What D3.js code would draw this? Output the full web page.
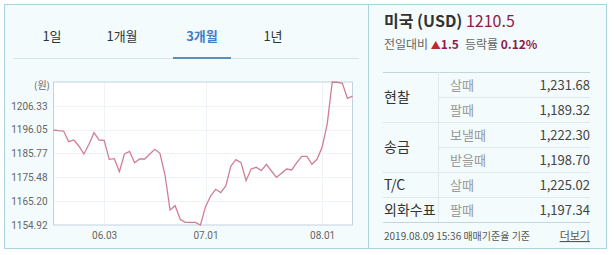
<!DOCTYPE html>
<html>
<head>
<meta charset="utf-8">
<script src="https://cdn.jsdelivr.net/npm/d3@7"></script>
<style>
  body { margin: 0; background: #fff; }
  svg { display: block; font-family: "Noto Sans CJK KR", "Noto Sans", sans-serif; }
</style>
</head>
<body>
<svg id="chart" width="614" height="255"></svg>
<script>
// dates (trading days, MM.DD)
var dates = ["05.20","05.21","05.22","05.23","05.24","05.27","05.28","05.29","05.30","05.31",
  "06.03","06.04","06.05","06.06","06.07","06.10","06.11","06.12","06.13","06.14",
  "06.17","06.18","06.19","06.20","06.21","06.24","06.25","06.26","06.27","06.28",
  "07.01","07.02","07.03","07.04","07.05","07.08","07.09","07.10","07.11","07.12",
  "07.15","07.16","07.17","07.18","07.19","07.22","07.23","07.24","07.25","07.26",
  "07.29","07.30","07.31","08.01","08.02","08.05","08.06","08.07","08.08","08.09"];

// USD/KRW closing rate
var rates = [1195.90,1195.62,1195.47,1190.87,1191.59,1189.00,1185.55,1189.72,1194.75,1191.59,
  1191.45,1183.25,1183.54,1177.93,1185.55,1186.70,1181.81,1183.39,1183.39,1185.55,
  1187.56,1185.84,1176.49,1161.39,1163.26,1157.36,1156.07,1156.07,1156.07,1154.92,
  1162.83,1167.43,1170.31,1168.87,1171.74,1180.37,1183.10,1181.81,1174.05,1179.08,
  1179.80,1178.36,1181.09,1178.22,1175.48,1177.21,1179.08,1178.65,1181.81,1184.54,
  1184.54,1181.09,1183.25,1188.43,1198.35,1216.61,1216.50,1216.04,1209.56,1210.50];

var yTicks = [1154.92, 1165.20, 1175.48, 1185.77, 1196.05, 1206.33];
var xTicks = ["06.03", "07.01", "08.01"];
var tabs = ["1일", "1개월", "3개월", "1년"];
var activeTab = "3개월";

// right side table
var groups = ["현찰", "현찰", "송금", "송금", "T/C", "외화수표"];
var kinds = ["살때", "팔때", "보낼때", "받을때", "살때", "팔때"];
var prices = ["1,231.68", "1,189.32", "1,222.30", "1,198.70", "1,225.02", "1,197.34"];

var svg = d3.select("#chart");

// panels
svg.append("rect").attr("x", 4.5).attr("y", 4.5).attr("width", 602).attr("height", 244)
  .attr("fill", "#f3fbfc").attr("stroke", "#a9d4dc");
svg.append("line").attr("x1", 368.5).attr("x2", 368.5).attr("y1", 4.5).attr("y2", 248.5)
  .attr("stroke", "#a9d4dc");

// tabs
var tabX = d3.scaleOrdinal().domain(tabs).range([52, 122, 202, 273]);
svg.append("line").attr("x1", 13).attr("x2", 359).attr("y1", 58.5).attr("y2", 58.5)
  .attr("stroke", "#d5e6ea");
svg.selectAll(".tab").data(tabs).enter().append("text")
  .attr("x", d => tabX(d)).attr("y", 41)
  .attr("text-anchor", "middle")
  .attr("font-size", 13)
  .attr("font-weight", d => d == activeTab ? "bold" : "normal")
  .attr("fill", d => d == activeTab ? "#3d7fc6" : "#333")
  .text(d => d);
svg.append("line").attr("x1", tabX(activeTab) - 29).attr("x2", tabX(activeTab) + 29)
  .attr("y1", 58).attr("y2", 58).attr("stroke", "#5a8fb8").attr("stroke-width", 2);

// chart
var pLeft = 53.5, pRight = 352.5, pTop = 82, pBottom = 225;
var x = d3.scalePoint().domain(dates).range([pLeft, pRight]);
var y = d3.scaleLinear().domain([1154.92, 1216.61]).range([pBottom, pTop]);

svg.append("rect").attr("x", pLeft).attr("y", pTop).attr("width", pRight - pLeft).attr("height", pBottom - pTop)
  .attr("fill", "#fff");

svg.selectAll(".hgrid").data(yTicks.slice(1)).enter().append("line")
  .attr("x1", pLeft).attr("x2", pRight)
  .attr("y1", d => Math.round(y(d)) + 0.5).attr("y2", d => Math.round(y(d)) + 0.5)
  .attr("stroke", "#eef3f7");
svg.selectAll(".vgrid").data(xTicks).enter().append("line")
  .attr("x1", d => Math.round(x(d)) + 0.5).attr("x2", d => Math.round(x(d)) + 0.5)
  .attr("y1", pTop).attr("y2", pBottom)
  .attr("stroke", "#eef3f7");

svg.append("rect").attr("x", pLeft).attr("y", pTop).attr("width", pRight - pLeft).attr("height", pBottom - pTop)
  .attr("fill", "none").attr("stroke", "#c3d2e0");

var yAxis = svg.append("g").attr("transform", "translate(" + (pLeft - 3) + ",0)")
  .call(d3.axisLeft(y).tickValues(yTicks).tickSize(0).tickFormat(d3.format(".2f")));
yAxis.select(".domain").remove();
yAxis.selectAll("text").attr("font-size", 10).attr("fill", "#666")
  .attr("font-family", "Roboto, sans-serif");

var xAxis = svg.append("g").attr("transform", "translate(0," + (pBottom + 4) + ")")
  .call(d3.axisBottom(x).tickValues(xTicks).tickSize(0));
xAxis.select(".domain").remove();
xAxis.selectAll("text").attr("font-size", 10).attr("fill", "#666")
  .attr("font-family", "Roboto, sans-serif");

svg.append("text").attr("x", 42).attr("y", 89).attr("text-anchor", "middle")
  .attr("font-size", 10).attr("fill", "#666").text("(원)");

var line = d3.line().x((d, i) => x(dates[i])).y(d => y(d));
svg.append("path").datum(rates)
  .attr("d", line)
  .attr("fill", "none")
  .attr("stroke", "#cf7f93")
  .attr("stroke-width", 1.3);

// header
var head = svg.append("text").attr("x", 384).attr("y", 27).attr("font-size", 16);
head.append("tspan").attr("font-weight", "bold").attr("fill", "#333").text("미국 (USD) ");
head.append("tspan").attr("fill", "#8c1c4c").text("1210.5");

var sub = svg.append("text").attr("x", 384).attr("y", 49).attr("font-size", 12);
sub.append("tspan").attr("fill", "#666").text("전일대비 ");
sub.append("tspan").attr("fill", "#c0282e").attr("font-size", 10).text("▲");
sub.append("tspan").attr("fill", "#8c1c4c").attr("font-weight", "bold").text("1.5");
sub.append("tspan").attr("fill", "#666").attr("dx", 6).text("등락률 ");
sub.append("tspan").attr("fill", "#8c1c4c").attr("font-weight", "bold").text("0.12%");

// table
var rowY = d3.scaleBand().domain(d3.range(prices.length)).range([72, 222]);
var tl = 383, tm = 438, tr = 590;

svg.selectAll(".rowline").data(d3.range(prices.length + 1)).enter().append("line")
  .attr("x1", i => (i > 0 && i < prices.length && groups[i] == groups[i - 1]) ? tm : tl)
  .attr("x2", tr)
  .attr("y1", i => (i < prices.length ? rowY(i) : 222) + 0.5)
  .attr("y2", i => (i < prices.length ? rowY(i) : 222) + 0.5)
  .attr("stroke", i => (i == 0 || i == prices.length) ? "#c3d6dc" : "#dfeaee");
svg.append("line").attr("x1", tm + 0.5).attr("x2", tm + 0.5).attr("y1", 72).attr("y2", 222)
  .attr("stroke", "#dfeaee");

var groupNames = Array.from(new Set(groups));
svg.selectAll(".grp").data(groupNames).enter().append("text")
  .attr("x", 384)
  .attr("y", g => {
    var idx = d3.range(groups.length).filter(i => groups[i] == g);
    return (rowY(idx[0]) + rowY(idx[idx.length - 1]) + rowY.bandwidth()) / 2 + 5;
  })
  .attr("font-size", 14).attr("fill", "#333").text(g => g);

svg.selectAll(".kind").data(kinds).enter().append("text")
  .attr("x", 450).attr("y", (d, i) => rowY(i) + rowY.bandwidth() / 2 + 5)
  .attr("font-size", 13).attr("fill", "#999").text(d => d);

svg.selectAll(".price").data(prices).enter().append("text")
  .attr("x", tr).attr("y", (d, i) => rowY(i) + rowY.bandwidth() / 2 + 5)
  .attr("text-anchor", "end")
  .attr("font-size", 13).attr("fill", "#444").text(d => d);

// footer
svg.append("text").attr("x", 384).attr("y", 240).attr("font-size", 10).attr("fill", "#555")
  .text("2019.08.09 15:36 매매기준율 기준");
svg.append("text").attr("x", tr).attr("y", 240).attr("text-anchor", "end")
  .attr("font-size", 11).attr("fill", "#555").attr("text-decoration", "underline")
  .text("더보기");
</script>
</body>
</html>
